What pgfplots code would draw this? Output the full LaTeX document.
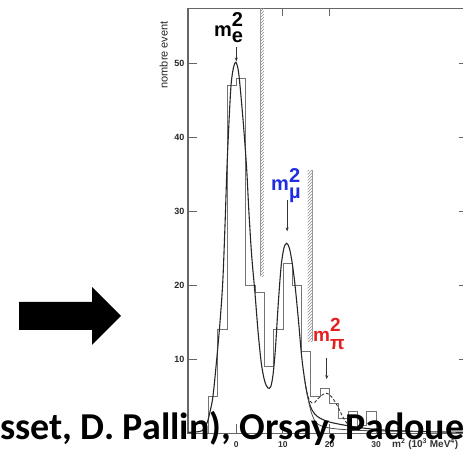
\documentclass[border=0pt]{standalone}
\usepackage{pgfplots}
\pgfplotsset{compat=1.18}
\usepackage{fontspec}
\setmainfont{Liberation Sans}
\newfontfamily\calibri{Carlito}
\usetikzlibrary{patterns,arrows.meta}

\definecolor{mublue}{RGB}{30,45,225}
\definecolor{pired}{RGB}{230,30,30}

% m^2 with stacked sub/superscript: #1 sub, #2 sub raise, #3 sup raise
\newcommand{\msq}[3]{\textbf{m}\rlap{\raisebox{#2}{\textbf{#1}}}\raisebox{#3}{\textbf{2}}}

\begin{document}
\begin{tikzpicture}
\useasboundingbox (0pt,0pt) rectangle (463pt,452pt);
\clip (0pt,0pt) rectangle (463pt,452pt);

% big arrow on the slide
\fill[black] (19pt,122pt) -- (92pt,122pt) -- (92pt,107pt) -- (121pt,136pt) -- (92pt,165pt) -- (92pt,150pt) -- (19pt,150pt) -- cycle;

\begin{axis}[
    at={(188pt,18.9pt)}, anchor=south west,
    width=280pt, height=424.8pt, scale only axis,
    xmin=-10.36, xmax=49.7, ymin=0, ymax=57.5,
    clip=false,
    axis line style={draw=black!60, line width=1.1pt},
    tick align=inside, major tick length=9pt,
    every tick/.style={draw=black!60, line width=0.9pt},
    xtick={0,10,20,30}, xtick pos=left,
    ytick={10,20,30,40,50},
    /pgf/number format/assume math mode=true,
    yticklabel style={font=\fontsize{9}{10}\selectfont\bfseries, text=black!85},
    xticklabel style={font=\fontsize{8.5}{9}\selectfont\bfseries, text=black!80, yshift=-5pt},
]
% cut regions
\fill[pattern=north east lines, pattern color=black!45] (axis cs:5.09,21.2) rectangle (axis cs:5.94,57.5);
\draw[black!40, line width=0.5pt] (axis cs:5.09,21.2) -- (axis cs:5.09,57.5);
\fill[pattern=north east lines, pattern color=black!45] (axis cs:15.3,12.4) rectangle (axis cs:16.2,35.6);
\draw[black!40, line width=0.5pt] (axis cs:16.2,12.4) -- (axis cs:16.2,35.6);

% histogram
\addplot[const plot, draw=black!55, line width=0.8pt] coordinates {
(-6,0) (-6,5) (-4,14) (-2,47) (0,48) (2,20) (4,19) (6,9) (8,14) (10,23)
(12,20) (14,11) (16,5) (18,6) (20,4) (22,2) (24,3) (26,1) (28,3) (30,0)};

% fitted curve
\addplot[smooth, draw=black!85, line width=1.1pt] coordinates {
(-10.3,0.1) (-8,0.2) (-7,0.5) (-6.2,1.5) (-5.6,3) (-5.0,5) (-4.2,10) (-3.5,15)
(-2.9,20.5) (-2.4,28.5) (-2.0,36) (-1.5,43) (-1.1,47.3) (-0.6,49.5) (-0.1,50.2)
(0.4,49.2) (0.8,47.0) (1.5,42) (2.2,36) (2.7,30) (3.3,24) (4.0,19) (4.7,13.5)
(5.4,9.3) (6.1,7.0) (6.8,6.1) (7.4,6.3) (7.9,8.0) (8.4,11.5) (9.0,17.5) (9.6,22.5)
(10.2,25.0) (10.8,25.7) (11.4,25.0) (12.0,23.0) (12.6,20.0) (13.3,15.5) (14.0,10.5)
(14.6,7.5) (15.2,5.3) (15.9,3.6) (16.8,2.6) (18,2.0) (20,1.5) (23,1.1) (27,0.7)
(32,0.4) (40,0.2) (49.6,0.1)};

% lower tail
\addplot[smooth, draw=black!70, line width=0.8pt] coordinates {
(15.2,5.3) (16,3) (17,1.5) (18.5,0.9) (21,0.6) (25,0.4) (30,0.3) (40,0.2)};

% with pion contribution
\addplot[smooth, draw=black!80, line width=0.9pt, dash pattern=on 3pt off 2pt] coordinates {
(14.6,7.6) (15.1,5.6) (15.6,4.6) (16.2,4.1) (16.9,4.2) (17.6,4.7) (18.3,5.1)
(19.2,5.4) (20.0,5.2) (20.7,4.7) (21.4,4.0) (22.0,3.3) (22.6,2.5) (23.2,1.8)
(23.8,1.3) (24.5,1.0) (25.5,0.7) (26.5,0.5)};

% top ticks
\draw[black!60, line width=0.9pt] (axis cs:10,57.5) -- ++(0pt,-8pt);
\draw[black!60, line width=0.9pt] (axis cs:20,57.5) -- ++(0pt,-8pt);

% arrows and labels
\draw[black!80, line width=0.6pt, -{Stealth[length=4pt,width=3pt]}] (axis cs:0,52.3) -- (axis cs:0,50.3);
\draw[black!80, line width=0.6pt, -{Stealth[length=4pt,width=3pt]}] (axis cs:10.9,31.6) -- (axis cs:10.9,27.3);
\draw[black!80, line width=0.6pt, -{Stealth[length=4pt,width=3pt]}] (axis cs:19.4,10.2) -- (axis cs:19.4,7.3);

\node[anchor=base west, inner sep=0, font=\fontsize{20}{22}\selectfont] at (axis cs:-4.8,53.65) {\msq{e}{-6pt}{10pt}};
\node[anchor=base west, inner sep=0, text=mublue, font=\fontsize{20}{22}\selectfont] at (axis cs:7.45,32.9) {\msq{\textmu}{-8pt}{8pt}};
\node[anchor=base west, inner sep=0, text=pired, font=\fontsize{19}{21}\selectfont] at (axis cs:16.46,12.34) {\msq{π}{-8pt}{10pt}};

\node[rotate=90, font=\fontsize{11}{12}\selectfont, text=black!85] at (axis cs:-15.6,51.2) {nombre event};
\end{axis}

% slide text over the figure
\node[anchor=base west, inner sep=0, font=\calibri\bfseries\fontsize{38}{44}\selectfont] at (0pt,12pt)
  {sset, D. Pallin), Orsay, Padoue};
% axis title, set lower than the slide text
\node[anchor=base west, inner sep=0, font=\fontsize{10}{11}\selectfont\bfseries, text=black!80] at (392pt,4.5pt)
  {m\textsuperscript{2} (10\textsuperscript{3} MeV\textsuperscript{4})};
\end{tikzpicture}
\end{document}
